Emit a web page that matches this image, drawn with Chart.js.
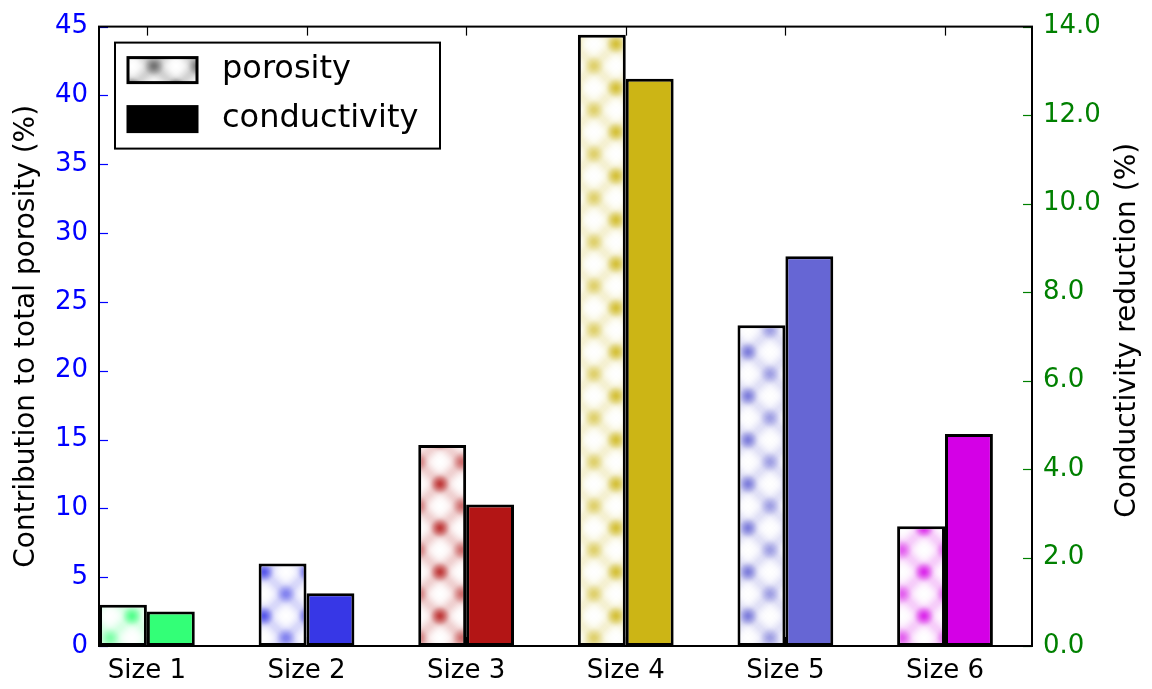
<!DOCTYPE html>
<html>
<head>
<meta charset="utf-8">
<script src="https://cdn.jsdelivr.net/npm/chart.js@4/dist/chart.umd.min.js"></script>
<style>
  html, body { margin: 0; padding: 0; background: #fff; }
  #wrap { width: 1152px; height: 689px; }
</style>
</head>
<body>
<div id="wrap"><canvas id="c" width="1152" height="689"></canvas></div>
<script>
// Pore size classes and their contributions
const categories = ['Size 1', 'Size 2', 'Size 3', 'Size 4', 'Size 5', 'Size 6'];
const porosity = [3.0, 6.0, 14.6, 44.4, 23.3, 8.7];          // % of total porosity (left axis)
const conductivity = [0.78, 1.19, 3.20, 12.82, 8.81, 4.79];  // % conductivity reduction (right axis)
const barColors = ['#33ff77', '#3737e6', '#b31515', '#ccb515', '#6666d4', '#d400e6'];
const rightTitle = 'Conductivity reduction (%)';

const FONT = 'DejaVu Sans';

function rgba(hex, a) {
  const n = parseInt(hex.slice(1), 16);
  return `rgba(${(n >> 16) & 255},${(n >> 8) & 255},${n & 255},${a})`;
}

// Soft cross-hatch pattern: diagonal lattice with dense spots at the crossings
function hatch(color) {
  const s = 44;
  const big = document.createElement('canvas');
  big.width = s * 3; big.height = s * 3;
  const g = big.getContext('2d');
  g.fillStyle = '#fff';
  g.fillRect(0, 0, s * 3, s * 3);
  g.filter = 'blur(4px)';
  g.strokeStyle = rgba(color, 0.27);
  g.lineWidth = 9;
  for (let k = -4; k <= 8; k++) {
    g.beginPath(); g.moveTo(k * s, 0); g.lineTo(k * s + s * 3, s * 3); g.stroke();
    g.beginPath(); g.moveTo(k * s, 0); g.lineTo(k * s - s * 3, s * 3); g.stroke();
  }
  g.filter = 'blur(1.5px)';
  for (let i = -1; i <= 4; i++) {
    for (let j = -1; j <= 4; j++) {
      const pts = [[i * s, j * s, 0.9], [i * s + s / 2, j * s + s / 2, 0.5]];
      for (const [x, y, al] of pts) {
        const rg = g.createRadialGradient(x, y, 0, x, y, 10);
        rg.addColorStop(0, rgba(color, al));
        rg.addColorStop(1, rgba(color, 0));
        g.fillStyle = rg;
        g.fillRect(x - 10, y - 10, 20, 20);
      }
    }
  }
  const tile = document.createElement('canvas');
  tile.width = s; tile.height = s;
  tile.getContext('2d').drawImage(big, s, s, s, s, 0, 0, s, s);
  return tile.getContext('2d').createPattern(tile, 'repeat');
}

const hatchFills = barColors.map(hatch);
const legendHatch = hatch('#202020');

// Frame, inward ticks, right-hand axis title and the inset legend
const decorations = {
  id: 'decorations',
  afterDatasetsDraw(chart) {
    const { ctx, chartArea: a, scales } = chart;
    ctx.save();
    const tick = 9;
    ctx.lineWidth = 1.2;
    // left axis ticks (blue)
    ctx.strokeStyle = '#0000ff';
    for (const t of scales.y.ticks) {
      const y = Math.round(scales.y.getPixelForValue(t.value)) + 0.5;
      ctx.beginPath(); ctx.moveTo(a.left, y); ctx.lineTo(a.left + tick, y); ctx.stroke();
    }
    // right axis ticks (green)
    ctx.strokeStyle = '#008000';
    for (const t of scales.y2.ticks) {
      const y = Math.round(scales.y2.getPixelForValue(t.value)) + 0.5;
      ctx.beginPath(); ctx.moveTo(a.right, y); ctx.lineTo(a.right - tick, y); ctx.stroke();
    }
    // category ticks top and bottom
    ctx.strokeStyle = '#000';
    for (const t of scales.x.ticks) {
      const x = Math.round(scales.x.getPixelForValue(t.value)) + 0.5;
      ctx.beginPath(); ctx.moveTo(x, a.top); ctx.lineTo(x, a.top + tick); ctx.stroke();
      ctx.beginPath(); ctx.moveTo(x, a.bottom); ctx.lineTo(x, a.bottom - tick); ctx.stroke();
    }
    // frame
    ctx.lineWidth = 2;
    ctx.strokeStyle = '#000';
    ctx.strokeRect(a.left, a.top, a.right - a.left, a.bottom - a.top);

    // right axis title, reading bottom to top
    ctx.save();
    ctx.translate(scales.y2.right - 24, (a.top + a.bottom) / 2 - 6);
    ctx.rotate(-Math.PI / 2);
    ctx.font = `28px "${FONT}"`;
    ctx.fillStyle = '#000';
    ctx.textAlign = 'center';
    ctx.textBaseline = 'middle';
    ctx.fillText(rightTitle, 0, 0);
    ctx.restore();

    // legend
    const lx = a.left + 16, ly = a.top + 16, lw = 325, lh = 106;
    ctx.fillStyle = '#fff';
    ctx.fillRect(lx, ly, lw, lh);
    ctx.lineWidth = 2;
    ctx.strokeRect(lx, ly, lw, lh);
    const items = [
      { label: 'porosity', fill: legendHatch },
      { label: 'conductivity', fill: '#000' }
    ];
    ctx.font = `32px "${FONT}"`;
    ctx.textBaseline = 'middle';
    items.forEach((it, i) => {
      const sy = ly + 15 + i * 49;
      ctx.fillStyle = it.fill;
      ctx.fillRect(lx + 13, sy, 69, 25);
      ctx.lineWidth = 3;
      ctx.strokeStyle = '#000';
      ctx.strokeRect(lx + 13, sy, 69, 25);
      ctx.fillStyle = '#000';
      ctx.fillText(it.label, lx + 107, sy + 12);
    });
    ctx.restore();
  }
};

new Chart(document.getElementById('c'), {
  type: 'bar',
  data: {
    datasets: [
      {
        label: 'porosity',
        data: porosity.map((v, i) => ({ x: i, y: v })),
        backgroundColor: hatchFills,
        borderColor: '#000',
        borderWidth: 3,
        borderSkipped: false,
        yAxisID: 'y'
      },
      {
        label: 'conductivity',
        data: conductivity.map((v, i) => ({ x: i, y: v })),
        backgroundColor: barColors,
        borderColor: '#000',
        borderWidth: 3,
        borderSkipped: false,
        yAxisID: 'y2'
      }
    ]
  },
  options: {
    responsive: false,
    devicePixelRatio: 1,
    animation: false,
    categoryPercentage: 0.6,
    barPercentage: 1.0,
    layout: { padding: { top: 25, left: 0, right: 0, bottom: 0 } },
    plugins: { legend: { display: false }, tooltip: { enabled: false } },
    scales: {
      x: {
        type: 'linear',
        offset: false,
        min: -0.3,
        max: 5.545,
        grid: { display: false, drawTicks: false },
        border: { display: false },
        afterBuildTicks(scale) { scale.ticks = categories.map((_, i) => ({ value: i })); },
        afterFit(scale) { scale.height = 43; },
        ticks: {
          autoSkip: false,
          maxRotation: 0,
          padding: 10,
          color: '#000',
          font: { family: FONT, size: 26 },
          callback: (v) => categories[v]
        }
      },
      y: {
        position: 'left',
        min: 0,
        max: 45,
        grid: { display: false, drawTicks: false },
        border: { display: false },
        afterFit(scale) { scale.width = 99; },
        ticks: { stepSize: 5, padding: 11, color: '#0000ff', font: { family: FONT, size: 26 } },
        title: {
          display: true,
          text: 'Contribution to total porosity (%)',
          color: '#000',
          font: { family: FONT, size: 28 },
          padding: { top: 10, bottom: 0 }
        }
      },
      y2: {
        position: 'right',
        min: 0,
        max: 14,
        grid: { display: false, drawTicks: false },
        border: { display: false },
        afterFit(scale) { scale.width = 120; },
        ticks: {
          stepSize: 2,
          padding: 11,
          color: '#008000',
          font: { family: FONT, size: 26 },
          callback: (v) => v.toFixed(1)
        }
      }
    }
  },
  plugins: [decorations]
});
</script>
</body>
</html>
